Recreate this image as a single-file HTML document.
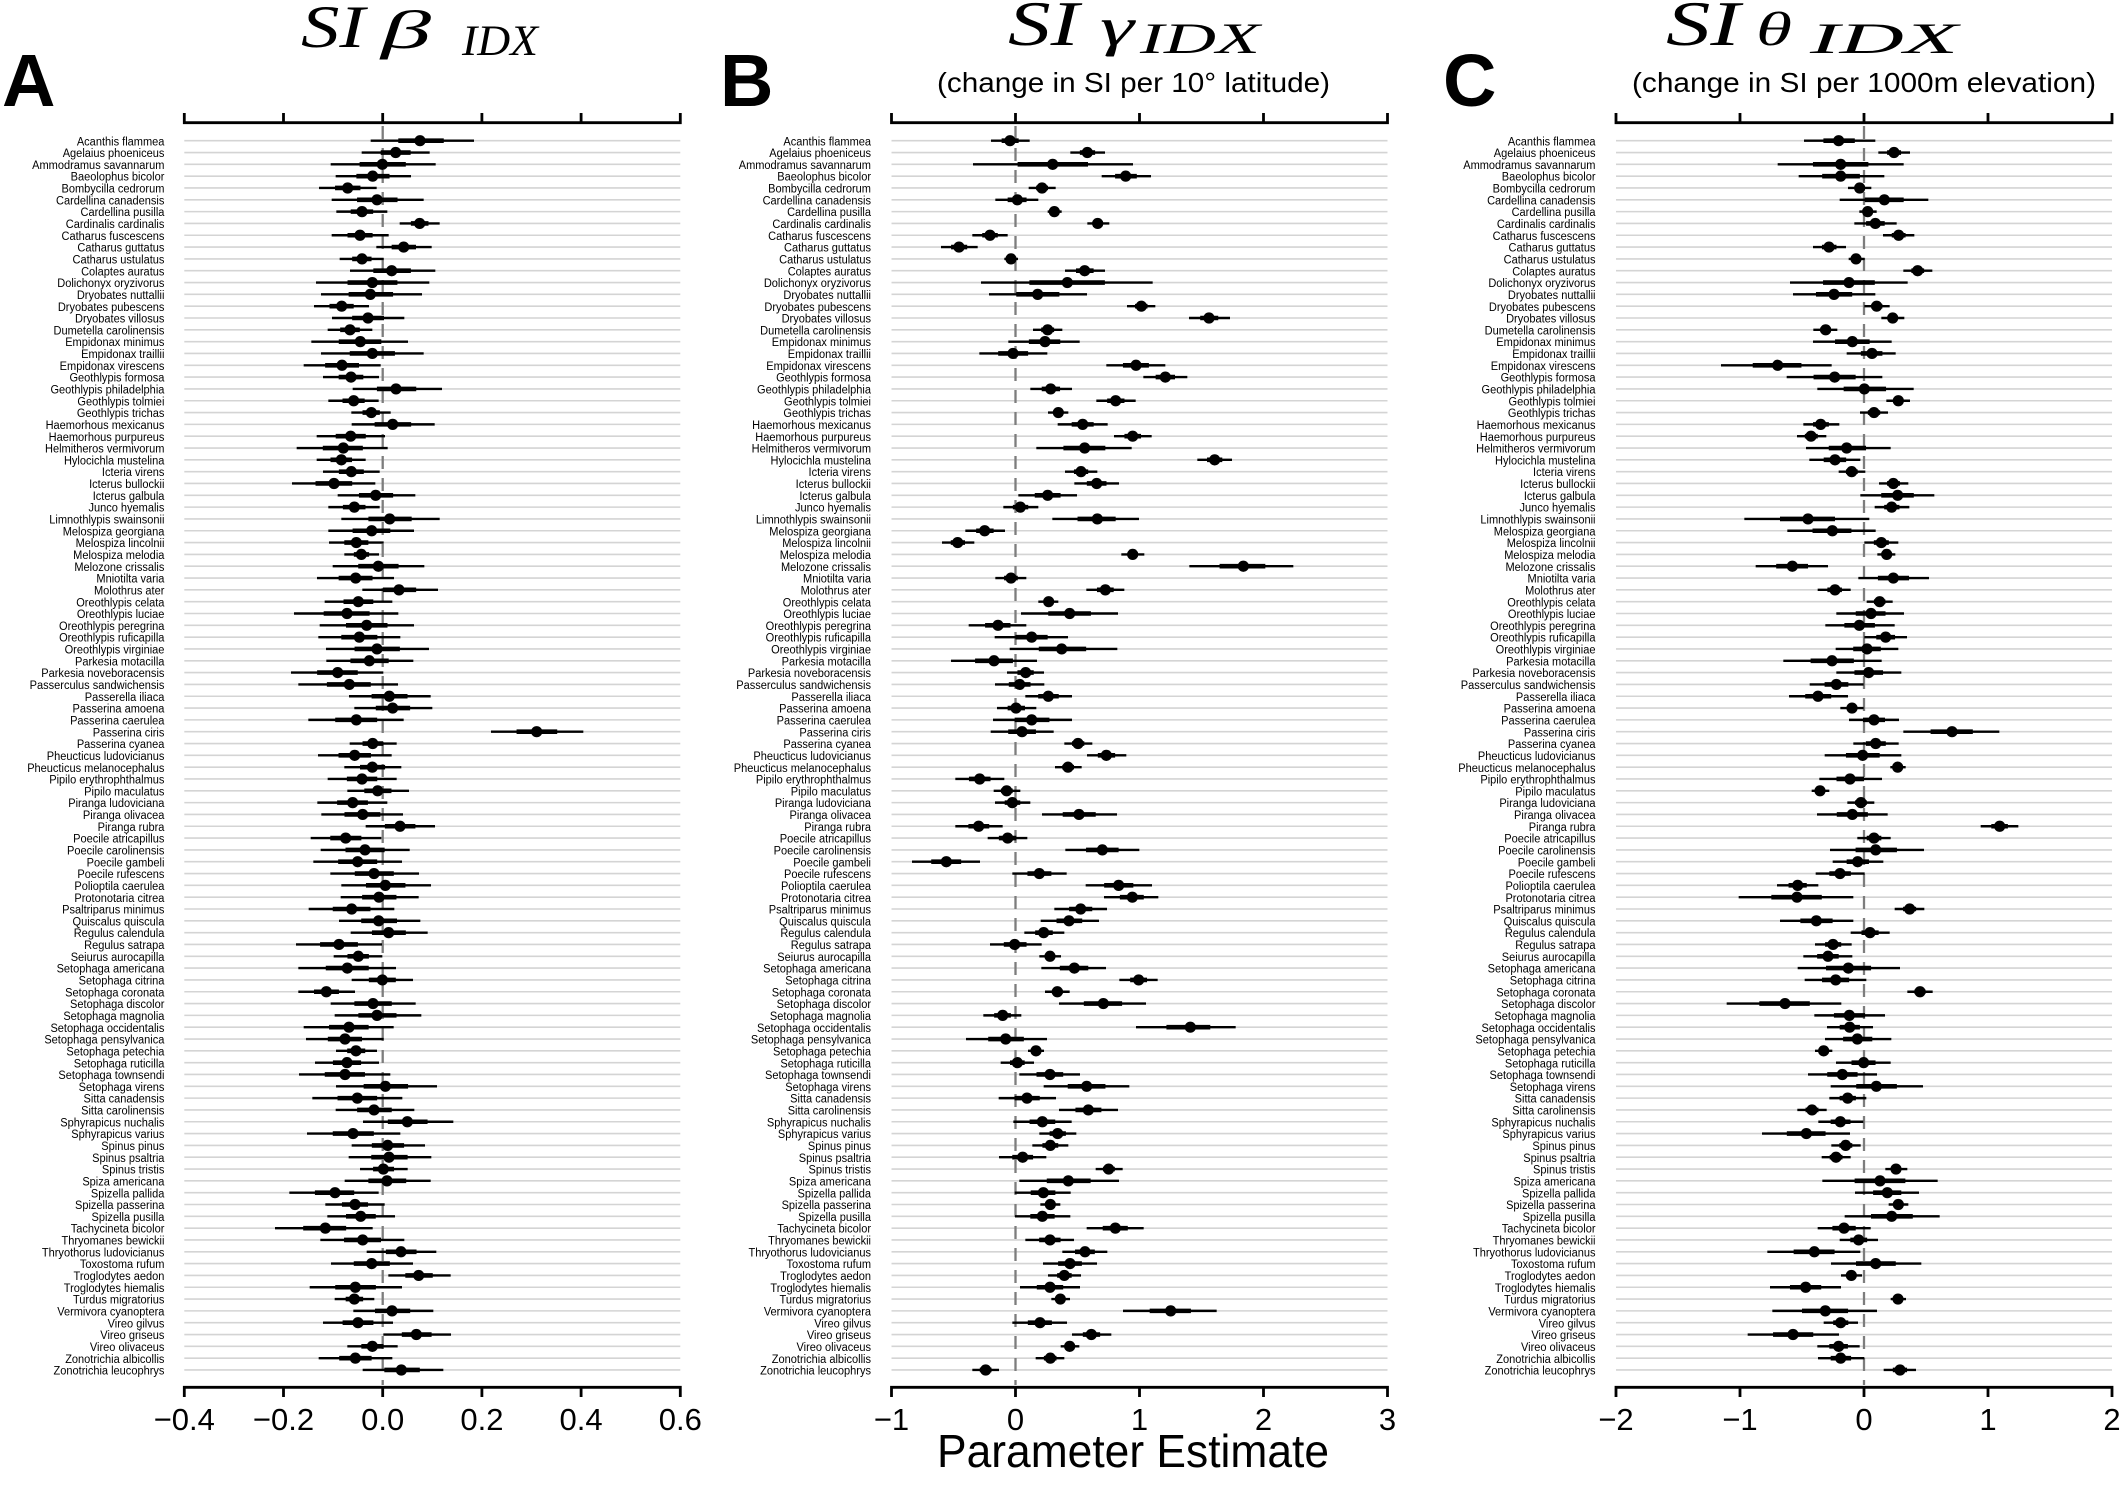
<!DOCTYPE html>
<html>
<head>
<meta charset="utf-8">
<style>
html,body{margin:0;padding:0;background:#fff;}
body{width:2120px;height:1500px;overflow:hidden;}
svg{display:block;}
.lab{font-family:"Liberation Sans",Arial,sans-serif;font-size:12.4px;fill:#000;}
.tick{font-family:"Liberation Sans",Arial,sans-serif;font-size:31px;fill:#000;}
.ttl{font-family:"Liberation Serif","Times New Roman",serif;font-style:italic;fill:#000;}
.sub{font-family:"Liberation Sans",Arial,sans-serif;font-size:28px;fill:#000;}
.big{font-family:"Liberation Sans",Arial,sans-serif;font-weight:bold;font-size:74px;fill:#000;}
</style>
</head>
<body>
<svg id="svg" width="2120" height="1500" viewBox="0 0 2120 1500" xmlns="http://www.w3.org/2000/svg">
<rect width="2120" height="1500" fill="#fff"/>
<g id="grid"></g>
<g id="data"></g>

<!-- Panel letters -->
<text class="big" x="2" y="106">A</text>
<text class="big" x="720" y="106">B</text>
<text class="big" x="1443" y="106">C</text>

<!-- Titles -->
<text class="ttl" x="301" y="47" font-size="60" textLength="64" lengthAdjust="spacingAndGlyphs">SI</text>
<text class="ttl" x="381" y="48" font-size="54" textLength="50" lengthAdjust="spacingAndGlyphs">β</text>
<text class="ttl" x="462" y="55" font-size="43" textLength="76" lengthAdjust="spacingAndGlyphs">IDX</text>

<text class="ttl" x="1008" y="45" font-size="63" textLength="71" lengthAdjust="spacingAndGlyphs">SI</text>
<text class="ttl" x="1100" y="45" font-size="54" textLength="34" lengthAdjust="spacingAndGlyphs">γ</text>
<text class="ttl" x="1140" y="53" font-size="43" textLength="120" lengthAdjust="spacingAndGlyphs">IDX</text>
<text class="sub" x="937" y="92" textLength="393" lengthAdjust="spacingAndGlyphs">(change in SI per 10° latitude)</text>

<text class="ttl" x="1666" y="45" font-size="63" textLength="74" lengthAdjust="spacingAndGlyphs">SI</text>
<text class="ttl" x="1756" y="45" font-size="48" textLength="36" lengthAdjust="spacingAndGlyphs">θ</text>
<text class="ttl" x="1810" y="53" font-size="43" textLength="148" lengthAdjust="spacingAndGlyphs">IDX</text>
<text class="sub" x="1632" y="92" textLength="464" lengthAdjust="spacingAndGlyphs">(change in SI per 1000m elevation)</text>

<!-- Axes -->
<g fill="none" stroke="#000" stroke-width="2.8">
<path d="M184.3 113V122.7H680.3V113M283.5 113V122.7M382.7 113V122.7M481.9 113V122.7M581.1 113V122.7"/>
<path d="M184.3 1397V1387.3H680.3V1397M283.5 1387.3V1397M382.7 1387.3V1397M481.9 1387.3V1397M581.1 1387.3V1397"/>
<path d="M891.5 113V122.7H1387.5V113M1015.5 113V122.7M1139.5 113V122.7M1263.5 113V122.7"/>
<path d="M891.5 1397V1387.3H1387.5V1397M1015.5 1387.3V1397M1139.5 1387.3V1397M1263.5 1387.3V1397"/>
<path d="M1616 113V122.7H2112V113M1740 113V122.7M1864 113V122.7M1988 113V122.7"/>
<path d="M1616 1397V1387.3H2112V1397M1740 1387.3V1397M1864 1387.3V1397M1988 1387.3V1397"/>
</g>

<!-- Tick labels -->
<g class="tick" text-anchor="middle">
<text x="184.3" y="1430">−0.4</text>
<text x="283.5" y="1430">−0.2</text>
<text x="382.7" y="1430">0.0</text>
<text x="481.9" y="1430">0.2</text>
<text x="581.1" y="1430">0.4</text>
<text x="680.3" y="1430">0.6</text>
<text x="891.5" y="1430">−1</text>
<text x="1015.5" y="1430">0</text>
<text x="1139.5" y="1430">1</text>
<text x="1263.5" y="1430">2</text>
<text x="1387.5" y="1430">3</text>
<text x="1616" y="1430">−2</text>
<text x="1740" y="1430">−1</text>
<text x="1864" y="1430">0</text>
<text x="1988" y="1430">1</text>
<text x="2112" y="1430">2</text>
</g>
<text x="1133" y="1467" text-anchor="middle" font-family="Liberation Sans, Arial, sans-serif" font-size="46" textLength="392" lengthAdjust="spacingAndGlyphs">Parameter Estimate</text>

<!-- Species labels A -->
<g transform="translate(164.4 0) scale(0.89 1)">
<text class="lab" text-anchor="end" y="145.3"><tspan x="0" y="145.3">Acanthis flammea</tspan><tspan x="0" dy="11.82">Agelaius phoeniceus</tspan><tspan x="0" dy="11.82">Ammodramus savannarum</tspan><tspan x="0" dy="11.82">Baeolophus bicolor</tspan><tspan x="0" dy="11.82">Bombycilla cedrorum</tspan><tspan x="0" dy="11.82">Cardellina canadensis</tspan><tspan x="0" dy="11.82">Cardellina pusilla</tspan><tspan x="0" dy="11.82">Cardinalis cardinalis</tspan><tspan x="0" dy="11.82">Catharus fuscescens</tspan><tspan x="0" dy="11.82">Catharus guttatus</tspan><tspan x="0" dy="11.82">Catharus ustulatus</tspan><tspan x="0" dy="11.82">Colaptes auratus</tspan><tspan x="0" dy="11.82">Dolichonyx oryzivorus</tspan><tspan x="0" dy="11.82">Dryobates nuttallii</tspan><tspan x="0" dy="11.82">Dryobates pubescens</tspan><tspan x="0" dy="11.82">Dryobates villosus</tspan><tspan x="0" dy="11.82">Dumetella carolinensis</tspan><tspan x="0" dy="11.82">Empidonax minimus</tspan><tspan x="0" dy="11.82">Empidonax traillii</tspan><tspan x="0" dy="11.82">Empidonax virescens</tspan><tspan x="0" dy="11.82">Geothlypis formosa</tspan><tspan x="0" dy="11.82">Geothlypis philadelphia</tspan><tspan x="0" dy="11.82">Geothlypis tolmiei</tspan><tspan x="0" dy="11.82">Geothlypis trichas</tspan><tspan x="0" dy="11.82">Haemorhous mexicanus</tspan><tspan x="0" dy="11.82">Haemorhous purpureus</tspan><tspan x="0" dy="11.82">Helmitheros vermivorum</tspan><tspan x="0" dy="11.82">Hylocichla mustelina</tspan><tspan x="0" dy="11.82">Icteria virens</tspan><tspan x="0" dy="11.82">Icterus bullockii</tspan><tspan x="0" dy="11.82">Icterus galbula</tspan><tspan x="0" dy="11.82">Junco hyemalis</tspan><tspan x="0" dy="11.82">Limnothlypis swainsonii</tspan><tspan x="0" dy="11.82">Melospiza georgiana</tspan><tspan x="0" dy="11.82">Melospiza lincolnii</tspan><tspan x="0" dy="11.82">Melospiza melodia</tspan><tspan x="0" dy="11.82">Melozone crissalis</tspan><tspan x="0" dy="11.82">Mniotilta varia</tspan><tspan x="0" dy="11.82">Molothrus ater</tspan><tspan x="0" dy="11.82">Oreothlypis celata</tspan><tspan x="0" dy="11.82">Oreothlypis luciae</tspan><tspan x="0" dy="11.82">Oreothlypis peregrina</tspan><tspan x="0" dy="11.82">Oreothlypis ruficapilla</tspan><tspan x="0" dy="11.82">Oreothlypis virginiae</tspan><tspan x="0" dy="11.82">Parkesia motacilla</tspan><tspan x="0" dy="11.82">Parkesia noveboracensis</tspan><tspan x="0" dy="11.82">Passerculus sandwichensis</tspan><tspan x="0" dy="11.82">Passerella iliaca</tspan><tspan x="0" dy="11.82">Passerina amoena</tspan><tspan x="0" dy="11.82">Passerina caerulea</tspan><tspan x="0" dy="11.82">Passerina ciris</tspan><tspan x="0" dy="11.82">Passerina cyanea</tspan><tspan x="0" dy="11.82">Pheucticus ludovicianus</tspan><tspan x="0" dy="11.82">Pheucticus melanocephalus</tspan><tspan x="0" dy="11.82">Pipilo erythrophthalmus</tspan><tspan x="0" dy="11.82">Pipilo maculatus</tspan><tspan x="0" dy="11.82">Piranga ludoviciana</tspan><tspan x="0" dy="11.82">Piranga olivacea</tspan><tspan x="0" dy="11.82">Piranga rubra</tspan><tspan x="0" dy="11.82">Poecile atricapillus</tspan><tspan x="0" dy="11.82">Poecile carolinensis</tspan><tspan x="0" dy="11.82">Poecile gambeli</tspan><tspan x="0" dy="11.82">Poecile rufescens</tspan><tspan x="0" dy="11.82">Polioptila caerulea</tspan><tspan x="0" dy="11.82">Protonotaria citrea</tspan><tspan x="0" dy="11.82">Psaltriparus minimus</tspan><tspan x="0" dy="11.82">Quiscalus quiscula</tspan><tspan x="0" dy="11.82">Regulus calendula</tspan><tspan x="0" dy="11.82">Regulus satrapa</tspan><tspan x="0" dy="11.82">Seiurus aurocapilla</tspan><tspan x="0" dy="11.82">Setophaga americana</tspan><tspan x="0" dy="11.82">Setophaga citrina</tspan><tspan x="0" dy="11.82">Setophaga coronata</tspan><tspan x="0" dy="11.82">Setophaga discolor</tspan><tspan x="0" dy="11.82">Setophaga magnolia</tspan><tspan x="0" dy="11.82">Setophaga occidentalis</tspan><tspan x="0" dy="11.82">Setophaga pensylvanica</tspan><tspan x="0" dy="11.82">Setophaga petechia</tspan><tspan x="0" dy="11.82">Setophaga ruticilla</tspan><tspan x="0" dy="11.82">Setophaga townsendi</tspan><tspan x="0" dy="11.82">Setophaga virens</tspan><tspan x="0" dy="11.82">Sitta canadensis</tspan><tspan x="0" dy="11.82">Sitta carolinensis</tspan><tspan x="0" dy="11.82">Sphyrapicus nuchalis</tspan><tspan x="0" dy="11.82">Sphyrapicus varius</tspan><tspan x="0" dy="11.82">Spinus pinus</tspan><tspan x="0" dy="11.82">Spinus psaltria</tspan><tspan x="0" dy="11.82">Spinus tristis</tspan><tspan x="0" dy="11.82">Spiza americana</tspan><tspan x="0" dy="11.82">Spizella pallida</tspan><tspan x="0" dy="11.82">Spizella passerina</tspan><tspan x="0" dy="11.82">Spizella pusilla</tspan><tspan x="0" dy="11.82">Tachycineta bicolor</tspan><tspan x="0" dy="11.82">Thryomanes bewickii</tspan><tspan x="0" dy="11.82">Thryothorus ludovicianus</tspan><tspan x="0" dy="11.82">Toxostoma rufum</tspan><tspan x="0" dy="11.82">Troglodytes aedon</tspan><tspan x="0" dy="11.82">Troglodytes hiemalis</tspan><tspan x="0" dy="11.82">Turdus migratorius</tspan><tspan x="0" dy="11.82">Vermivora cyanoptera</tspan><tspan x="0" dy="11.82">Vireo gilvus</tspan><tspan x="0" dy="11.82">Vireo griseus</tspan><tspan x="0" dy="11.82">Vireo olivaceus</tspan><tspan x="0" dy="11.82">Zonotrichia albicollis</tspan><tspan x="0" dy="11.82">Zonotrichia leucophrys</tspan></text>
</g>

<!-- Species labels B -->
<g transform="translate(871 0) scale(0.89 1)">
<text class="lab" text-anchor="end" y="145.3"><tspan x="0" y="145.3">Acanthis flammea</tspan><tspan x="0" dy="11.82">Agelaius phoeniceus</tspan><tspan x="0" dy="11.82">Ammodramus savannarum</tspan><tspan x="0" dy="11.82">Baeolophus bicolor</tspan><tspan x="0" dy="11.82">Bombycilla cedrorum</tspan><tspan x="0" dy="11.82">Cardellina canadensis</tspan><tspan x="0" dy="11.82">Cardellina pusilla</tspan><tspan x="0" dy="11.82">Cardinalis cardinalis</tspan><tspan x="0" dy="11.82">Catharus fuscescens</tspan><tspan x="0" dy="11.82">Catharus guttatus</tspan><tspan x="0" dy="11.82">Catharus ustulatus</tspan><tspan x="0" dy="11.82">Colaptes auratus</tspan><tspan x="0" dy="11.82">Dolichonyx oryzivorus</tspan><tspan x="0" dy="11.82">Dryobates nuttallii</tspan><tspan x="0" dy="11.82">Dryobates pubescens</tspan><tspan x="0" dy="11.82">Dryobates villosus</tspan><tspan x="0" dy="11.82">Dumetella carolinensis</tspan><tspan x="0" dy="11.82">Empidonax minimus</tspan><tspan x="0" dy="11.82">Empidonax traillii</tspan><tspan x="0" dy="11.82">Empidonax virescens</tspan><tspan x="0" dy="11.82">Geothlypis formosa</tspan><tspan x="0" dy="11.82">Geothlypis philadelphia</tspan><tspan x="0" dy="11.82">Geothlypis tolmiei</tspan><tspan x="0" dy="11.82">Geothlypis trichas</tspan><tspan x="0" dy="11.82">Haemorhous mexicanus</tspan><tspan x="0" dy="11.82">Haemorhous purpureus</tspan><tspan x="0" dy="11.82">Helmitheros vermivorum</tspan><tspan x="0" dy="11.82">Hylocichla mustelina</tspan><tspan x="0" dy="11.82">Icteria virens</tspan><tspan x="0" dy="11.82">Icterus bullockii</tspan><tspan x="0" dy="11.82">Icterus galbula</tspan><tspan x="0" dy="11.82">Junco hyemalis</tspan><tspan x="0" dy="11.82">Limnothlypis swainsonii</tspan><tspan x="0" dy="11.82">Melospiza georgiana</tspan><tspan x="0" dy="11.82">Melospiza lincolnii</tspan><tspan x="0" dy="11.82">Melospiza melodia</tspan><tspan x="0" dy="11.82">Melozone crissalis</tspan><tspan x="0" dy="11.82">Mniotilta varia</tspan><tspan x="0" dy="11.82">Molothrus ater</tspan><tspan x="0" dy="11.82">Oreothlypis celata</tspan><tspan x="0" dy="11.82">Oreothlypis luciae</tspan><tspan x="0" dy="11.82">Oreothlypis peregrina</tspan><tspan x="0" dy="11.82">Oreothlypis ruficapilla</tspan><tspan x="0" dy="11.82">Oreothlypis virginiae</tspan><tspan x="0" dy="11.82">Parkesia motacilla</tspan><tspan x="0" dy="11.82">Parkesia noveboracensis</tspan><tspan x="0" dy="11.82">Passerculus sandwichensis</tspan><tspan x="0" dy="11.82">Passerella iliaca</tspan><tspan x="0" dy="11.82">Passerina amoena</tspan><tspan x="0" dy="11.82">Passerina caerulea</tspan><tspan x="0" dy="11.82">Passerina ciris</tspan><tspan x="0" dy="11.82">Passerina cyanea</tspan><tspan x="0" dy="11.82">Pheucticus ludovicianus</tspan><tspan x="0" dy="11.82">Pheucticus melanocephalus</tspan><tspan x="0" dy="11.82">Pipilo erythrophthalmus</tspan><tspan x="0" dy="11.82">Pipilo maculatus</tspan><tspan x="0" dy="11.82">Piranga ludoviciana</tspan><tspan x="0" dy="11.82">Piranga olivacea</tspan><tspan x="0" dy="11.82">Piranga rubra</tspan><tspan x="0" dy="11.82">Poecile atricapillus</tspan><tspan x="0" dy="11.82">Poecile carolinensis</tspan><tspan x="0" dy="11.82">Poecile gambeli</tspan><tspan x="0" dy="11.82">Poecile rufescens</tspan><tspan x="0" dy="11.82">Polioptila caerulea</tspan><tspan x="0" dy="11.82">Protonotaria citrea</tspan><tspan x="0" dy="11.82">Psaltriparus minimus</tspan><tspan x="0" dy="11.82">Quiscalus quiscula</tspan><tspan x="0" dy="11.82">Regulus calendula</tspan><tspan x="0" dy="11.82">Regulus satrapa</tspan><tspan x="0" dy="11.82">Seiurus aurocapilla</tspan><tspan x="0" dy="11.82">Setophaga americana</tspan><tspan x="0" dy="11.82">Setophaga citrina</tspan><tspan x="0" dy="11.82">Setophaga coronata</tspan><tspan x="0" dy="11.82">Setophaga discolor</tspan><tspan x="0" dy="11.82">Setophaga magnolia</tspan><tspan x="0" dy="11.82">Setophaga occidentalis</tspan><tspan x="0" dy="11.82">Setophaga pensylvanica</tspan><tspan x="0" dy="11.82">Setophaga petechia</tspan><tspan x="0" dy="11.82">Setophaga ruticilla</tspan><tspan x="0" dy="11.82">Setophaga townsendi</tspan><tspan x="0" dy="11.82">Setophaga virens</tspan><tspan x="0" dy="11.82">Sitta canadensis</tspan><tspan x="0" dy="11.82">Sitta carolinensis</tspan><tspan x="0" dy="11.82">Sphyrapicus nuchalis</tspan><tspan x="0" dy="11.82">Sphyrapicus varius</tspan><tspan x="0" dy="11.82">Spinus pinus</tspan><tspan x="0" dy="11.82">Spinus psaltria</tspan><tspan x="0" dy="11.82">Spinus tristis</tspan><tspan x="0" dy="11.82">Spiza americana</tspan><tspan x="0" dy="11.82">Spizella pallida</tspan><tspan x="0" dy="11.82">Spizella passerina</tspan><tspan x="0" dy="11.82">Spizella pusilla</tspan><tspan x="0" dy="11.82">Tachycineta bicolor</tspan><tspan x="0" dy="11.82">Thryomanes bewickii</tspan><tspan x="0" dy="11.82">Thryothorus ludovicianus</tspan><tspan x="0" dy="11.82">Toxostoma rufum</tspan><tspan x="0" dy="11.82">Troglodytes aedon</tspan><tspan x="0" dy="11.82">Troglodytes hiemalis</tspan><tspan x="0" dy="11.82">Turdus migratorius</tspan><tspan x="0" dy="11.82">Vermivora cyanoptera</tspan><tspan x="0" dy="11.82">Vireo gilvus</tspan><tspan x="0" dy="11.82">Vireo griseus</tspan><tspan x="0" dy="11.82">Vireo olivaceus</tspan><tspan x="0" dy="11.82">Zonotrichia albicollis</tspan><tspan x="0" dy="11.82">Zonotrichia leucophrys</tspan></text>
</g>

<!-- Species labels C -->
<g transform="translate(1595.5 0) scale(0.89 1)">
<text class="lab" text-anchor="end" y="145.3"><tspan x="0" y="145.3">Acanthis flammea</tspan><tspan x="0" dy="11.82">Agelaius phoeniceus</tspan><tspan x="0" dy="11.82">Ammodramus savannarum</tspan><tspan x="0" dy="11.82">Baeolophus bicolor</tspan><tspan x="0" dy="11.82">Bombycilla cedrorum</tspan><tspan x="0" dy="11.82">Cardellina canadensis</tspan><tspan x="0" dy="11.82">Cardellina pusilla</tspan><tspan x="0" dy="11.82">Cardinalis cardinalis</tspan><tspan x="0" dy="11.82">Catharus fuscescens</tspan><tspan x="0" dy="11.82">Catharus guttatus</tspan><tspan x="0" dy="11.82">Catharus ustulatus</tspan><tspan x="0" dy="11.82">Colaptes auratus</tspan><tspan x="0" dy="11.82">Dolichonyx oryzivorus</tspan><tspan x="0" dy="11.82">Dryobates nuttallii</tspan><tspan x="0" dy="11.82">Dryobates pubescens</tspan><tspan x="0" dy="11.82">Dryobates villosus</tspan><tspan x="0" dy="11.82">Dumetella carolinensis</tspan><tspan x="0" dy="11.82">Empidonax minimus</tspan><tspan x="0" dy="11.82">Empidonax traillii</tspan><tspan x="0" dy="11.82">Empidonax virescens</tspan><tspan x="0" dy="11.82">Geothlypis formosa</tspan><tspan x="0" dy="11.82">Geothlypis philadelphia</tspan><tspan x="0" dy="11.82">Geothlypis tolmiei</tspan><tspan x="0" dy="11.82">Geothlypis trichas</tspan><tspan x="0" dy="11.82">Haemorhous mexicanus</tspan><tspan x="0" dy="11.82">Haemorhous purpureus</tspan><tspan x="0" dy="11.82">Helmitheros vermivorum</tspan><tspan x="0" dy="11.82">Hylocichla mustelina</tspan><tspan x="0" dy="11.82">Icteria virens</tspan><tspan x="0" dy="11.82">Icterus bullockii</tspan><tspan x="0" dy="11.82">Icterus galbula</tspan><tspan x="0" dy="11.82">Junco hyemalis</tspan><tspan x="0" dy="11.82">Limnothlypis swainsonii</tspan><tspan x="0" dy="11.82">Melospiza georgiana</tspan><tspan x="0" dy="11.82">Melospiza lincolnii</tspan><tspan x="0" dy="11.82">Melospiza melodia</tspan><tspan x="0" dy="11.82">Melozone crissalis</tspan><tspan x="0" dy="11.82">Mniotilta varia</tspan><tspan x="0" dy="11.82">Molothrus ater</tspan><tspan x="0" dy="11.82">Oreothlypis celata</tspan><tspan x="0" dy="11.82">Oreothlypis luciae</tspan><tspan x="0" dy="11.82">Oreothlypis peregrina</tspan><tspan x="0" dy="11.82">Oreothlypis ruficapilla</tspan><tspan x="0" dy="11.82">Oreothlypis virginiae</tspan><tspan x="0" dy="11.82">Parkesia motacilla</tspan><tspan x="0" dy="11.82">Parkesia noveboracensis</tspan><tspan x="0" dy="11.82">Passerculus sandwichensis</tspan><tspan x="0" dy="11.82">Passerella iliaca</tspan><tspan x="0" dy="11.82">Passerina amoena</tspan><tspan x="0" dy="11.82">Passerina caerulea</tspan><tspan x="0" dy="11.82">Passerina ciris</tspan><tspan x="0" dy="11.82">Passerina cyanea</tspan><tspan x="0" dy="11.82">Pheucticus ludovicianus</tspan><tspan x="0" dy="11.82">Pheucticus melanocephalus</tspan><tspan x="0" dy="11.82">Pipilo erythrophthalmus</tspan><tspan x="0" dy="11.82">Pipilo maculatus</tspan><tspan x="0" dy="11.82">Piranga ludoviciana</tspan><tspan x="0" dy="11.82">Piranga olivacea</tspan><tspan x="0" dy="11.82">Piranga rubra</tspan><tspan x="0" dy="11.82">Poecile atricapillus</tspan><tspan x="0" dy="11.82">Poecile carolinensis</tspan><tspan x="0" dy="11.82">Poecile gambeli</tspan><tspan x="0" dy="11.82">Poecile rufescens</tspan><tspan x="0" dy="11.82">Polioptila caerulea</tspan><tspan x="0" dy="11.82">Protonotaria citrea</tspan><tspan x="0" dy="11.82">Psaltriparus minimus</tspan><tspan x="0" dy="11.82">Quiscalus quiscula</tspan><tspan x="0" dy="11.82">Regulus calendula</tspan><tspan x="0" dy="11.82">Regulus satrapa</tspan><tspan x="0" dy="11.82">Seiurus aurocapilla</tspan><tspan x="0" dy="11.82">Setophaga americana</tspan><tspan x="0" dy="11.82">Setophaga citrina</tspan><tspan x="0" dy="11.82">Setophaga coronata</tspan><tspan x="0" dy="11.82">Setophaga discolor</tspan><tspan x="0" dy="11.82">Setophaga magnolia</tspan><tspan x="0" dy="11.82">Setophaga occidentalis</tspan><tspan x="0" dy="11.82">Setophaga pensylvanica</tspan><tspan x="0" dy="11.82">Setophaga petechia</tspan><tspan x="0" dy="11.82">Setophaga ruticilla</tspan><tspan x="0" dy="11.82">Setophaga townsendi</tspan><tspan x="0" dy="11.82">Setophaga virens</tspan><tspan x="0" dy="11.82">Sitta canadensis</tspan><tspan x="0" dy="11.82">Sitta carolinensis</tspan><tspan x="0" dy="11.82">Sphyrapicus nuchalis</tspan><tspan x="0" dy="11.82">Sphyrapicus varius</tspan><tspan x="0" dy="11.82">Spinus pinus</tspan><tspan x="0" dy="11.82">Spinus psaltria</tspan><tspan x="0" dy="11.82">Spinus tristis</tspan><tspan x="0" dy="11.82">Spiza americana</tspan><tspan x="0" dy="11.82">Spizella pallida</tspan><tspan x="0" dy="11.82">Spizella passerina</tspan><tspan x="0" dy="11.82">Spizella pusilla</tspan><tspan x="0" dy="11.82">Tachycineta bicolor</tspan><tspan x="0" dy="11.82">Thryomanes bewickii</tspan><tspan x="0" dy="11.82">Thryothorus ludovicianus</tspan><tspan x="0" dy="11.82">Toxostoma rufum</tspan><tspan x="0" dy="11.82">Troglodytes aedon</tspan><tspan x="0" dy="11.82">Troglodytes hiemalis</tspan><tspan x="0" dy="11.82">Turdus migratorius</tspan><tspan x="0" dy="11.82">Vermivora cyanoptera</tspan><tspan x="0" dy="11.82">Vireo gilvus</tspan><tspan x="0" dy="11.82">Vireo griseus</tspan><tspan x="0" dy="11.82">Vireo olivaceus</tspan><tspan x="0" dy="11.82">Zonotrichia albicollis</tspan><tspan x="0" dy="11.82">Zonotrichia leucophrys</tspan></text>
</g>
</svg>

<script>
(function(){
var NS="http://www.w3.org/2000/svg";
var gGrid=document.getElementById('grid');
var gData=document.getElementById('data');
function el(parent,tag,a){var e=document.createElementNS(NS,tag);for(var k in a)e.setAttribute(k,a[k]);parent.appendChild(e);return e;}
var Y0=140.7, DY=11.82, F=0.44;

var A=[[735,587,897],[662,560,764],[622,467,782],[593,482,708],[518,432,605],[606,470,746],[561,484,637],[734,674,794],[555,470,641],[686,604,770],
[561,494,626],[650,525,781],[592,423,763],[586,438,741],[500,417,582],[579,471,688],[525,458,592],[556,409,699],[592,438,746],[501,386,617],
[528,444,612],[663,533,801],[536,460,611],[589,529,647],[653,530,779],[527,425,630],[505,365,638],[499,425,572],[529,444,614],[477,351,601],
[602,488,721],[538,460,614],[644,499,794],[590,460,717],[544,462,626],[559,508,612],[610,473,748],[542,426,657],[672,562,789],[550,449,652],
[516,357,670],[575,434,717],[553,430,676],[606,453,762],[583,454,715],[488,348,625],[523,370,669],[643,522,767],[653,538,772],[544,400,686],
[1085,948,1225],[593,524,665],[539,429,650],[592,508,679],[561,458,665],[608,517,702],[533,427,637],[563,439,684],[675,572,780],[512,407,619],
[570,437,704],[548,415,681],[597,466,732],[631,499,768],[612,497,731],[530,401,658],[611,492,736],[641,527,758],[492,363,621],[550,476,622],
[517,370,663],[622,530,714],[454,370,540],[594,467,722],[606,479,739],[522,386,656],[510,393,626],[543,483,606],[516,420,612],[510,372,646],
[631,483,786],[547,412,682],[597,482,718],[697,564,835],[534,396,676],[638,530,750],[642,521,769],[625,555,698],[636,509,767],[480,343,611],
[540,451,629],[557,457,660],[451,300,593],[563,436,688],[678,575,784],[590,468,714],[731,640,827],[541,404,681],[538,479,598],[651,535,775],
[549,444,654],[724,625,828],[592,517,668],[541,431,652],[679,563,805]];

var B=[[390,333,449],[622,571,675],[518,279,759],[737,665,813],[486,446,527],[412,346,475],[523,503,545],[653,622,688],[330,277,383],[237,183,293],
[393,373,414],[614,555,675],[562,303,818],[473,327,621],[784,741,826],[987,927,1050],[503,459,547],[495,385,599],[399,298,502],[768,679,856],
[856,790,922],[512,451,576],[707,649,767],[535,504,565],[608,533,683],[758,702,815],[614,469,755],[1004,952,1056],[603,555,652],[650,583,717],
[503,415,591],[421,370,475],[652,517,777],[314,256,375],[233,186,283],[758,724,793],[1090,928,1240],[393,346,439],[676,619,733],[506,475,535],
[569,423,714],[354,266,439],[455,344,564],[545,389,712],[342,213,471],[437,381,492],[419,345,493],[505,436,576],[408,351,469],[455,339,576],
[426,332,521],[594,553,637],[679,621,739],[564,525,605],[299,226,373],[380,341,421],[397,345,451],[597,486,711],[296,226,368],[383,323,442],
[667,556,778],[199,96,300],[478,397,560],[716,617,816],[757,672,835],[602,523,681],[567,482,657],[491,433,553],[404,330,485],[510,478,543],
[583,484,678],[776,718,833],[532,495,569],[670,537,798],[368,310,424],[931,768,1067],[377,258,501],[468,444,492],[412,362,462],[510,418,600],
[620,491,748],[441,356,528],[625,537,714],[487,400,575],[533,478,589],[511,457,565],[428,357,499],[686,647,728],[565,418,717],[490,404,572],
[511,481,541],[487,405,571],[706,620,791],[510,436,582],[615,547,682],[570,489,651],[553,504,603],[510,420,600],[541,514,570],[872,729,1010],
[480,397,561],[634,576,694],[569,542,598],[511,467,553],[317,277,357]];

var C=[[716,612,826],[882,835,930],[722,533,911],[722,596,853],[779,744,814],[853,719,985],[803,778,830],[826,763,890],[896,849,943],[687,639,738],
[768,746,794],[953,910,997],[747,570,923],[702,579,826],[830,793,869],[878,844,913],[677,640,712],[757,639,875],[816,740,887],[533,363,695],
[704,560,847],[793,652,941],[895,859,930],[822,780,864],[662,610,718],[633,591,679],[740,618,872],[705,628,781],[755,716,796],[880,837,925],
[893,781,1003],[875,824,928],[624,433,808],[697,562,827],[844,793,895],[860,832,886],[577,467,684],[880,775,987],[705,653,752],[839,800,878],
[813,709,912],[778,676,884],[857,793,921],[801,707,895],[696,550,845],[806,709,904],[709,629,791],[654,567,744],[756,721,791],[822,747,897],
[1056,910,1198],[827,760,896],[788,674,904],[893,871,917],[750,658,846],[660,635,688],[783,742,823],[757,651,863],[1199,1142,1255],[822,772,872],
[827,690,972],[773,698,850],[720,647,794],[593,531,655],[591,416,760],[929,884,973],[649,540,760],[810,752,869],[699,645,755],[684,610,757],
[745,593,900],[707,614,799],[960,922,998],[555,380,724],[748,643,855],[749,681,819],[772,675,874],[671,645,697],[791,708,872],[727,624,831],
[829,692,969],[743,688,799],[636,592,680],[721,655,790],[619,486,750],[737,694,782],[708,665,752],[888,856,922],[840,667,1013],[862,765,957],
[895,866,925],[875,734,1019],[732,653,812],[776,719,834],[643,502,781],[827,693,964],[754,723,786],[617,510,723],[894,872,918],[676,517,831],
[722,671,774],[579,443,717],[716,652,779],[722,654,793],[900,851,948]];

var P=[{o:175,x0:184.3,x1:680.3,z:382.7,d:A},{o:880,x0:891.5,x1:1387.5,z:1015.5,d:B},{o:1600,x0:1616,x1:2112,z:1864,d:C}];
P.forEach(function(p){
  var gp="";
  for(var i=0;i<105;i++){var y=(Y0+i*DY).toFixed(2);gp+="M"+p.x0+" "+y+"H"+p.x1;}
  el(gGrid,'path',{d:gp,stroke:'#d4d4d4','stroke-width':1.6,fill:'none'});
  el(gGrid,'line',{x1:p.z,x2:p.z,y1:126,y2:1385,stroke:'#7d7d7d','stroke-width':2.3,'stroke-dasharray':'13 9'});
  var thin="",thick="";
  p.d.forEach(function(r,i){
    var y=(Y0+i*DY);
    var c=p.o+r[0]/3, lo=p.o+r[1]/3, hi=p.o+r[2]/3;
    thin+="M"+lo.toFixed(2)+" "+y.toFixed(2)+"H"+hi.toFixed(2);
    thick+="M"+(c-(c-lo)*F).toFixed(2)+" "+y.toFixed(2)+"H"+(c+(hi-c)*F).toFixed(2);
  });
  el(gData,'path',{d:thin,stroke:'#000','stroke-width':2.4,fill:'none'});
  el(gData,'path',{d:thick,stroke:'#000','stroke-width':4.6,fill:'none'});
  p.d.forEach(function(r,i){
    el(gData,'circle',{cx:(p.o+r[0]/3).toFixed(2),cy:(Y0+i*DY).toFixed(2),r:5.6,fill:'#000'});
  });
});
})();
</script>
</body>
</html>
